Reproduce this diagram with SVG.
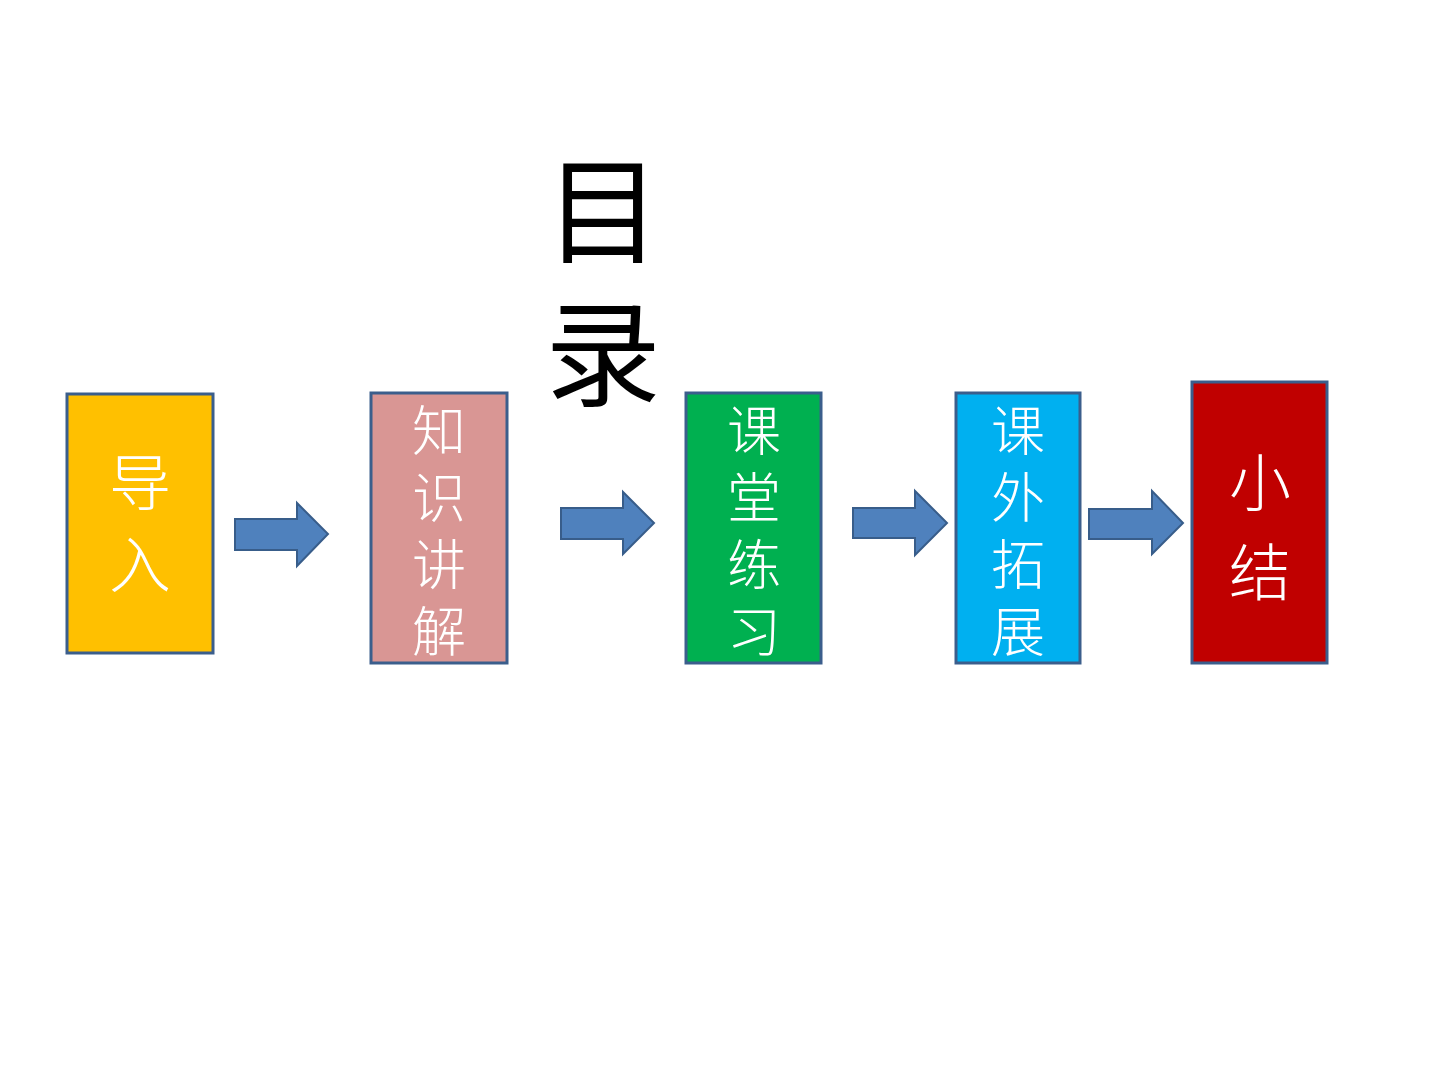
<svg xmlns="http://www.w3.org/2000/svg" width="1440" height="1080" viewBox="0 0 1440 1080">
<style>
.box{stroke:#3B5E8C;stroke-width:3}
.lbl{fill:#fff;font-family:"Noto Sans CJK SC","Noto Sans CJK JP",sans-serif;font-weight:300;text-anchor:middle}
.arr{fill:#4F81BD;stroke:#385D8A;stroke-width:2;stroke-linejoin:miter}
.title{fill:#000;font-family:"Noto Sans CJK SC",sans-serif;font-size:116px;text-anchor:middle}
</style>
<rect width="1440" height="1080" fill="#fff"/>
<g id="title">
<text class="title" x="603" y="254">目</text>
<text class="title" x="603" y="397">录</text>
</g>
<g id="node-daoru">
<rect class="box" x="67" y="394" width="146" height="259" fill="#FFC000"/>
<text class="lbl" font-size="62" x="140" y="506">导</text>
<text class="lbl" font-size="62" x="140" y="588">入</text>
</g>
<g id="node-zhishi">
<rect class="box" x="371" y="393" width="136" height="270" fill="#D99694"/>
<text class="lbl" font-size="54" x="439" y="451">知</text>
<text class="lbl" font-size="54" x="439" y="518">识</text>
<text class="lbl" font-size="54" x="439" y="585">讲</text>
<text class="lbl" font-size="54" x="439" y="652">解</text>
</g>
<g id="node-ketang">
<rect class="box" x="686" y="393" width="135" height="270" fill="#00B050"/>
<text class="lbl" font-size="54" x="754" y="451">课</text>
<text class="lbl" font-size="54" x="754" y="518">堂</text>
<text class="lbl" font-size="54" x="754" y="585">练</text>
<text class="lbl" font-size="54" x="754" y="652">习</text>
</g>
<g id="node-kewai">
<rect class="box" x="956" y="393" width="124" height="270" fill="#00B0F0"/>
<text class="lbl" font-size="54" x="1018" y="451">课</text>
<text class="lbl" font-size="54" x="1018" y="518">外</text>
<text class="lbl" font-size="54" x="1018" y="585">拓</text>
<text class="lbl" font-size="54" x="1018" y="652">展</text>
</g>
<g id="node-xiaojie">
<rect class="box" x="1192" y="382" width="135" height="281" fill="#C00000"/>
<text class="lbl" font-size="62" x="1260" y="506">小</text>
<text class="lbl" font-size="62" x="1260" y="596">结</text>
</g>
<g id="connectors">
<polygon class="arr" points="235,519 297,519 297,503 328,534 297,566 297,550 235,550"/>
<polygon class="arr" points="561,508 623,508 623,492 654,523 623,554 623,539 561,539"/>
<polygon class="arr" points="853,508 915,508 915,491 947,523 915,555 915,538 853,538"/>
<polygon class="arr" points="1089,509 1152,509 1152,491 1183,523 1152,554 1152,539 1089,539"/>
</g>
</svg>
